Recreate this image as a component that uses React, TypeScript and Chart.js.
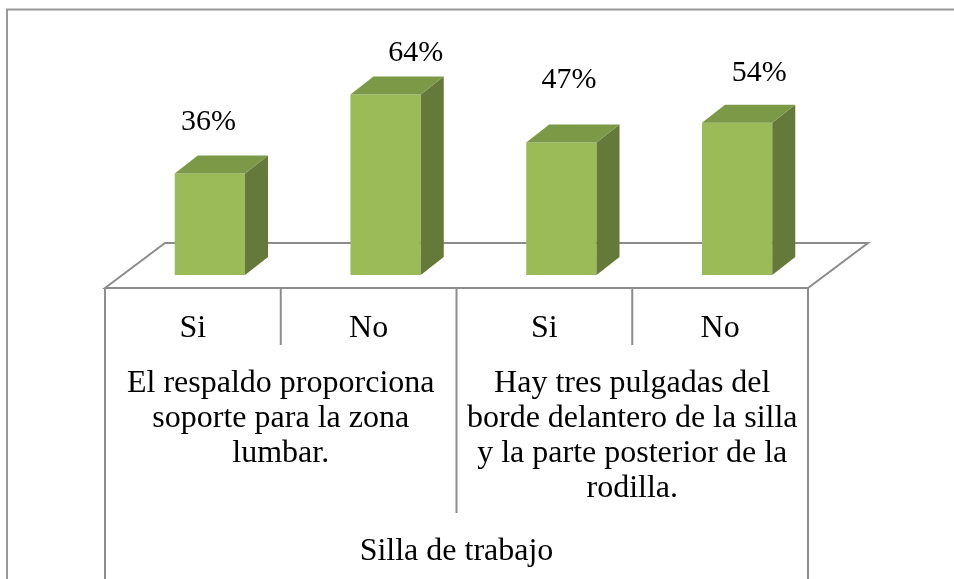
import React, { useEffect, useRef } from "react";
import { Chart, registerables } from "chart.js";

Chart.register(...registerables);

const categories = ["Si", "No", "Si", "No"];
const values = [36, 64, 47, 54];
const groupLabels = [
  ["El respaldo proporciona", "soporte para la zona", "lumbar."],
  ["Hay tres pulgadas del", "borde delantero de la silla", "y la parte posterior de la", "rodilla."],
];
const topLabel = "Silla de trabajo";

const FRONT = "#9BBB59";
const TOP = "#7B9947";
const SIDE = "#65793A";
const LINE = "#8c8c8c";
const FONT = "'Liberation Serif', 'Times New Roman', serif";

const threeD = {
  id: "threeD",
  beforeDatasetsDraw(chart: any, _args: any, opts: any) {
    const ctx = chart.ctx;
    const xs = chart.scales.x;
    const meta = chart.getDatasetMeta(0);
    const base = meta.data[0].base;
    const fdx = opts.floorShift;
    const fy = base + opts.floorDrop;
    const left = xs.getPixelForValue(-0.5) - fdx;
    const right = xs.getPixelForValue(categories.length - 0.5) - fdx;
    const bdx = opts.floorDepthX;
    const bdy = opts.floorDepthY;
    ctx.save();
    // outer chart border
    ctx.strokeStyle = "#999";
    ctx.lineWidth = 2;
    ctx.strokeRect(7, 9.5, 1200, 900);
    // floor
    ctx.strokeStyle = LINE;
    ctx.lineWidth = 2;
    ctx.beginPath();
    ctx.moveTo(left, fy);
    ctx.lineTo(left + bdx, fy - bdy);
    ctx.lineTo(right + bdx, fy - bdy);
    ctx.lineTo(right, fy);
    ctx.closePath();
    ctx.stroke();
    // table lines
    const H = chart.height;
    for (let i = 0; i <= categories.length; i++) {
      const x = xs.getPixelForValue(i - 0.5) - fdx;
      let bottom = fy + 57;
      if (i === 0 || i === categories.length) bottom = H;
      else if (i % 2 === 0) bottom = fy + 225;
      ctx.beginPath();
      ctx.moveTo(x, fy);
      ctx.lineTo(x, bottom);
      ctx.stroke();
    }
    // texts
    ctx.fillStyle = "#000";
    ctx.textAlign = "center";
    ctx.textBaseline = "alphabetic";
    ctx.font = `32px ${FONT}`;
    categories.forEach((c, i) => {
      const x = xs.getPixelForValue(i) - fdx;
      ctx.fillText(c, x, fy + 49);
    });
    groupLabels.forEach((lines, g) => {
      const x = (xs.getPixelForValue(g * 2 - 0.5) + xs.getPixelForValue(g * 2 + 1.5)) / 2 - fdx;
      lines.forEach((ln, k) => ctx.fillText(ln, x, fy + 104 + k * 35));
    });
    ctx.fillText(topLabel, (left + right) / 2, fy + 272);
    ctx.restore();
  },
  afterDatasetsDraw(chart: any, _args: any, opts: any) {
    const ctx = chart.ctx;
    const meta = chart.getDatasetMeta(0);
    const dx = opts.barDepthX;
    const dy = opts.barDepthY;
    ctx.save();
    meta.data.forEach((bar: any, i: number) => {
      const l = bar.x - bar.width / 2;
      const r = bar.x + bar.width / 2;
      const t = bar.y;
      const b = bar.base;
      ctx.fillStyle = SIDE;
      ctx.beginPath();
      ctx.moveTo(r, t);
      ctx.lineTo(r + dx, t - dy);
      ctx.lineTo(r + dx, b - dy);
      ctx.lineTo(r, b);
      ctx.closePath();
      ctx.fill();
      ctx.fillStyle = TOP;
      ctx.beginPath();
      ctx.moveTo(l, t);
      ctx.lineTo(l + dx, t - dy);
      ctx.lineTo(r + dx, t - dy);
      ctx.lineTo(r, t);
      ctx.closePath();
      ctx.fill();
      // value label
      const nudge = opts.labelNudge[i] || [0, 0];
      ctx.fillStyle = "#000";
      ctx.textAlign = "center";
      ctx.textBaseline = "alphabetic";
      ctx.font = `30px ${FONT}`;
      ctx.fillText(`${values[i]}%`, bar.x + nudge[0], t + nudge[1]);
    });
    ctx.restore();
  },
};

export default function App() {
  const ref = useRef<HTMLCanvasElement>(null);
  useEffect(() => {
    if (!ref.current) return;
    const pxPerUnit = 2.82;
    const yMax = 80;
    const base = 275;
    const chart = new Chart(ref.current, {
      type: "bar",
      data: {
        labels: categories,
        datasets: [
          {
            data: values,
            backgroundColor: FRONT,
            borderWidth: 0,
            categoryPercentage: 1,
            barPercentage: 0.4,
          },
        ],
      },
      options: {
        animation: false,
        responsive: false,
        devicePixelRatio: 1,
        layout: {
          padding: { left: 122, right: 954 - 825, top: base - yMax * pxPerUnit, bottom: 579 - base },
        },
        scales: {
          x: { display: false },
          y: { display: false, min: 0, max: yMax },
        },
        plugins: {
          legend: { display: false },
          tooltip: { enabled: false },
          threeD: {
            floorShift: 17,
            floorDrop: 13,
            floorDepthX: 60,
            floorDepthY: 45,
            barDepthX: 23,
            barDepthY: 18,
            labelNudge: [
              [-1.5, -43],
              [30, -34],
              [7.5, -54],
              [22, -42],
            ],
          },
        } as any,
      },
      plugins: [threeD],
    });
    return () => chart.destroy();
  }, []);
  return (
    <div style={{ position: "absolute", left: 0, top: 0, width: 954, height: 579, background: "#fff" }}>
      <canvas ref={ref} width={954} height={579} />
    </div>
  );
}
